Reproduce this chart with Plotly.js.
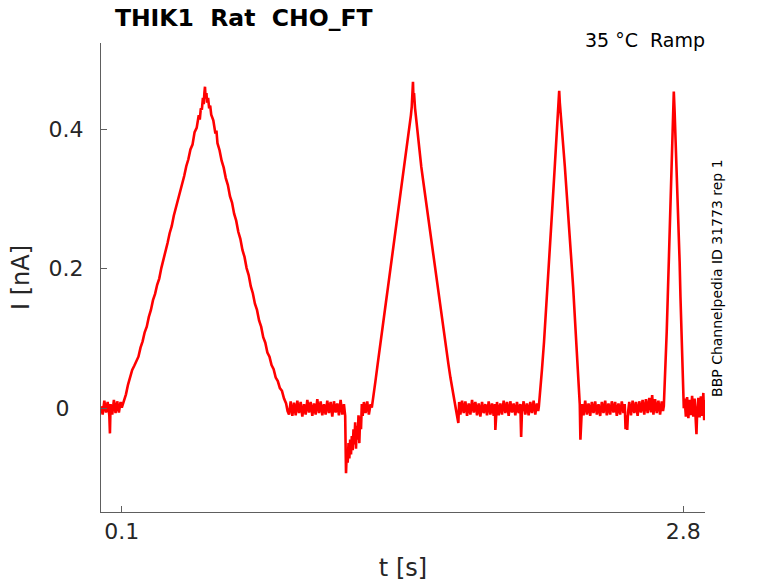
<!DOCTYPE html>
<html>
<head>
<meta charset="utf-8">
<script src="https://cdn.plot.ly/plotly-3.0.1.min.js"></script>
<style>
  html, body { margin: 0; padding: 0; background: #fff; }
  #plotDiv { width: 778px; height: 583px; }
</style>
</head>
<body>
<div id="plotDiv"></div>
<script>
// Ramp protocol current trace.
// Each segment is a list of [t (s), I (nA)] pairs.

const baseline0 = [
    [0.000, 0.003], [0.008, -0.009], [0.016, 0.011], [0.024, -0.006], [0.032, 0.009],
    [0.040, -0.010], [0.043, -0.036], [0.046, 0.006], [0.054, -0.009], [0.062, 0.012],
    [0.070, -0.007], [0.078, 0.010], [0.086, -0.006], [0.094, 0.009]
];

const ramp1Up = [
    [0.100, 0.001], [0.110, 0.011], [0.120, 0.020], [0.130, 0.034], [0.140, 0.045],
    [0.150, 0.055], [0.160, 0.061], [0.170, 0.069], [0.180, 0.074], [0.190, 0.087],
    [0.200, 0.096], [0.210, 0.109], [0.220, 0.117], [0.230, 0.131], [0.240, 0.141],
    [0.250, 0.155], [0.260, 0.164], [0.270, 0.177], [0.280, 0.186], [0.290, 0.201],
    [0.300, 0.212], [0.310, 0.227], [0.320, 0.237], [0.330, 0.251], [0.340, 0.261],
    [0.350, 0.276], [0.360, 0.287], [0.370, 0.301], [0.380, 0.311], [0.390, 0.324],
    [0.400, 0.333], [0.410, 0.347], [0.420, 0.357], [0.430, 0.371], [0.440, 0.378],
    [0.450, 0.396], [0.460, 0.402], [0.470, 0.420], [0.475, 0.414], [0.480, 0.430],
    [0.485, 0.428], [0.490, 0.445], [0.494, 0.436], [0.497, 0.452], [0.500, 0.461]
];

const ramp1Down = [
    [0.503, 0.444], [0.507, 0.452], [0.510, 0.438], [0.515, 0.445], [0.520, 0.430],
    [0.525, 0.434], [0.530, 0.421], [0.540, 0.413], [0.550, 0.394], [0.555, 0.398],
    [0.560, 0.380], [0.570, 0.370], [0.580, 0.355], [0.590, 0.345], [0.600, 0.330],
    [0.610, 0.320], [0.620, 0.304], [0.630, 0.295], [0.640, 0.279], [0.650, 0.269],
    [0.660, 0.253], [0.670, 0.243], [0.680, 0.227], [0.690, 0.217], [0.700, 0.201],
    [0.710, 0.191], [0.720, 0.175], [0.730, 0.165], [0.740, 0.150], [0.750, 0.141],
    [0.760, 0.126], [0.770, 0.117], [0.780, 0.102], [0.790, 0.094], [0.800, 0.080],
    [0.810, 0.074], [0.820, 0.062], [0.830, 0.056], [0.840, 0.044], [0.850, 0.039],
    [0.860, 0.029], [0.870, 0.025], [0.880, 0.014], [0.890, 0.007], [0.897, -0.004]
];

const baseline1 = [
    [0.904, -0.009], [0.912, 0.010], [0.920, -0.011], [0.928, 0.008], [0.936, -0.010],
    [0.944, 0.011], [0.952, -0.007], [0.960, 0.009], [0.968, -0.012], [0.976, 0.006],
    [0.984, -0.009], [0.992, 0.012], [1.000, -0.006], [1.008, 0.009], [1.016, -0.011],
    [1.024, 0.007], [1.032, -0.009], [1.040, 0.013], [1.048, -0.007], [1.056, 0.010],
    [1.064, -0.010], [1.072, 0.006], [1.080, -0.009], [1.088, 0.011], [1.096, -0.007],
    [1.104, 0.009], [1.112, -0.012], [1.120, 0.010], [1.128, -0.006], [1.136, 0.007],
    [1.144, -0.010], [1.152, 0.012], [1.160, -0.009], [1.168, 0.006], [1.174, -0.011],
    [1.178, -0.093], [1.182, -0.060], [1.186, -0.078], [1.190, -0.050], [1.194, -0.072],
    [1.198, -0.045], [1.202, -0.066], [1.206, -0.040], [1.210, -0.060], [1.214, -0.030],
    [1.218, -0.052], [1.222, -0.020], [1.226, -0.058], [1.230, -0.025], [1.234, -0.045],
    [1.238, -0.010], [1.242, -0.050], [1.246, -0.012], [1.250, -0.030], [1.254, 0.006],
    [1.258, -0.011], [1.264, 0.009], [1.272, -0.007], [1.280, 0.010], [1.288, -0.009],
    [1.296, 0.006]
];

const ramp2Up = [
    [1.302, 0.001], [1.310, 0.016], [1.320, 0.040], [1.330, 0.063], [1.340, 0.087],
    [1.350, 0.108], [1.360, 0.130], [1.370, 0.152], [1.380, 0.174], [1.390, 0.196],
    [1.400, 0.217], [1.410, 0.239], [1.420, 0.261], [1.430, 0.283], [1.440, 0.306],
    [1.450, 0.328], [1.460, 0.351], [1.470, 0.373], [1.480, 0.395], [1.490, 0.420],
    [1.494, 0.432], [1.497, 0.450], [1.500, 0.468]
];

const ramp2Down = [
    [1.502, 0.446], [1.505, 0.452], [1.510, 0.430], [1.520, 0.400], [1.530, 0.370],
    [1.540, 0.346], [1.550, 0.324], [1.560, 0.302], [1.570, 0.279], [1.580, 0.257],
    [1.590, 0.234], [1.600, 0.212], [1.610, 0.191], [1.620, 0.170], [1.630, 0.149],
    [1.640, 0.128], [1.650, 0.106], [1.660, 0.085], [1.670, 0.064], [1.680, 0.044],
    [1.690, 0.025], [1.700, 0.008]
];

const baseline2 = [
    [1.705, 0.000], [1.712, -0.011], [1.718, -0.021], [1.722, 0.009], [1.728, -0.009],
    [1.736, 0.011], [1.744, -0.007], [1.752, 0.010], [1.760, -0.011], [1.768, 0.007],
    [1.776, -0.009], [1.784, 0.012], [1.792, -0.006], [1.800, 0.009], [1.808, -0.010],
    [1.816, 0.007], [1.824, -0.012], [1.832, 0.009], [1.840, -0.007], [1.848, 0.006],
    [1.856, -0.010], [1.864, 0.010], [1.872, -0.009], [1.880, 0.007], [1.888, -0.011],
    [1.894, 0.006], [1.896, -0.031], [1.899, -0.006], [1.904, 0.009], [1.912, -0.010],
    [1.920, 0.007], [1.928, -0.009], [1.936, 0.011], [1.944, -0.007], [1.952, 0.009],
    [1.960, -0.011], [1.968, 0.010], [1.976, -0.006], [1.984, 0.007], [1.992, -0.010],
    [2.000, 0.009], [2.008, -0.007], [2.016, 0.006], [2.020, -0.041], [2.024, -0.005],
    [2.032, 0.010], [2.040, -0.009], [2.048, 0.007], [2.056, -0.010], [2.064, 0.009],
    [2.072, -0.007], [2.080, 0.011], [2.088, -0.009], [2.096, 0.007], [2.102, -0.004]
];

const ramp3 = [
    [2.105, 0.002], [2.110, 0.018], [2.120, 0.055], [2.130, 0.095], [2.140, 0.140],
    [2.150, 0.190], [2.160, 0.240], [2.170, 0.288], [2.180, 0.338], [2.190, 0.390],
    [2.197, 0.425], [2.200, 0.440], [2.203, 0.455], [2.206, 0.438], [2.210, 0.425],
    [2.220, 0.385], [2.230, 0.347], [2.240, 0.308], [2.250, 0.262], [2.260, 0.218],
    [2.270, 0.174], [2.280, 0.125], [2.290, 0.075], [2.297, 0.041], [2.302, 0.005],
    [2.305, -0.045], [2.309, -0.010]
];

const baseline3 = [
    [2.313, 0.006], [2.320, -0.010], [2.328, 0.011], [2.336, -0.009], [2.344, 0.007],
    [2.352, -0.011], [2.360, 0.009], [2.368, -0.007], [2.376, 0.010], [2.384, -0.009],
    [2.392, 0.006], [2.400, -0.011], [2.408, 0.009], [2.416, -0.007], [2.424, 0.011],
    [2.432, -0.010], [2.440, 0.007], [2.448, -0.009], [2.456, 0.010], [2.464, -0.006],
    [2.472, 0.009], [2.480, -0.011], [2.488, 0.007], [2.496, -0.009], [2.504, 0.010],
    [2.512, -0.007], [2.518, 0.006], [2.522, -0.030], [2.526, -0.010], [2.530, -0.031],
    [2.534, -0.006], [2.540, 0.009], [2.548, -0.010], [2.556, 0.011], [2.564, -0.007],
    [2.572, 0.009], [2.580, -0.011], [2.588, 0.010], [2.596, -0.006], [2.604, 0.012],
    [2.612, -0.009], [2.620, 0.013], [2.628, -0.007], [2.636, 0.015], [2.644, -0.006],
    [2.650, 0.019], [2.656, -0.009], [2.664, 0.013], [2.672, -0.007], [2.680, 0.011],
    [2.688, -0.009], [2.696, 0.010], [2.702, -0.004], [2.706, 0.003]
];

const ramp4 = [
    [2.710, 0.030], [2.715, 0.065], [2.720, 0.110], [2.725, 0.160], [2.730, 0.213],
    [2.735, 0.262], [2.740, 0.315], [2.745, 0.365], [2.750, 0.415], [2.754, 0.454],
    [2.758, 0.425], [2.762, 0.392], [2.766, 0.360], [2.770, 0.327], [2.774, 0.294],
    [2.778, 0.260], [2.782, 0.210], [2.786, 0.160], [2.790, 0.110], [2.794, 0.060],
    [2.797, 0.022]
];

const baseline4 = [
    [2.802, 0.000], [2.806, 0.014], [2.812, -0.012], [2.818, 0.016], [2.824, -0.014],
    [2.830, 0.012], [2.836, -0.010], [2.842, 0.018], [2.848, -0.012], [2.854, 0.014],
    [2.860, -0.015], [2.863, -0.037], [2.866, -0.008], [2.872, 0.015], [2.878, -0.013],
    [2.884, 0.017], [2.890, -0.011], [2.896, 0.022], [2.900, -0.017], [2.904, 0.012]
];

const xTickVals = [0.1, 2.8];
const xTickText = ['0.1', '2.8'];
const yTickVals = [0, 0.2, 0.4];
const yTickText = ['0\u00a0\u00a0', '0.2', '0.4'];

const segments = [baseline0, ramp1Up, ramp1Down, baseline1, ramp2Up, ramp2Down,
                  baseline2, ramp3, baseline3, ramp4, baseline4];
const points = segments.flat();

const FONT = 'DejaVu Sans, Verdana, sans-serif';
const AXIS = '#5e5e5e';
const TEXT = '#262626';

const trace = {
    x: points.map(p => p[0]),
    y: points.map(p => p[1]),
    type: 'scatter',
    mode: 'lines',
    line: { color: '#ff0000', width: 2.6 },
    hoverinfo: 'skip',
};

const layout = {
    width: 778,
    height: 583,
    paper_bgcolor: '#ffffff',
    plot_bgcolor: '#ffffff',
    showlegend: false,
    margin: { l: 101, r: 73, t: 43, b: 71 },
    font: { family: FONT, color: TEXT },
    title: {
        text: '<b>THIK1\u00a0 Rat\u00a0 CHO_FT</b>',
        font: { family: FONT, size: 23.5, color: '#000000' },
        xref: 'paper', x: 0.023, xanchor: 'left',
        yref: 'container', y: 0.969, yanchor: 'middle',
    },
    xaxis: {
        range: [0, 2.904],
        tickvals: xTickVals, ticktext: xTickText,
        ticks: 'inside', ticklen: 6, tickwidth: 1, tickcolor: AXIS,
        showline: true, linecolor: AXIS, linewidth: 1,
        showgrid: false, zeroline: false,
        tickfont: { family: FONT, size: 22, color: TEXT },
        title: { text: 't [s]', font: { family: FONT, size: 24, color: TEXT }, standoff: 15 },
    },
    yaxis: {
        range: [-0.1487, 0.5237],
        tickvals: yTickVals, ticktext: yTickText,
        ticks: 'inside', ticklen: 6, tickwidth: 1, tickcolor: AXIS,
        ticklabelstandoff: 12,
        showline: true, linecolor: AXIS, linewidth: 1,
        showgrid: false, zeroline: false,
        tickfont: { family: FONT, size: 22, color: TEXT },
        title: { text: 'I [nA]', font: { family: FONT, size: 24, color: TEXT }, standoff: 12 },
    },
    annotations: [
        {
            text: '35 °C\u00a0 Ramp',
            xref: 'paper', yref: 'paper', x: 1.003, y: 1.0064,
            xanchor: 'right', yanchor: 'middle', showarrow: false,
            font: { family: FONT, size: 19, color: '#000000' },
        },
        {
            text: 'BBP Channelpedia ID 31773 rep 1',
            xref: 'paper', yref: 'paper', x: 1.019, y: 0.5,
            xanchor: 'center', yanchor: 'middle', textangle: -90, showarrow: false,
            font: { family: FONT, size: 14, color: '#000000' },
        },
    ],
};

Plotly.newPlot('plotDiv', [trace], layout, { displayModeBar: false, staticPlot: true });
</script>
</body>
</html>
